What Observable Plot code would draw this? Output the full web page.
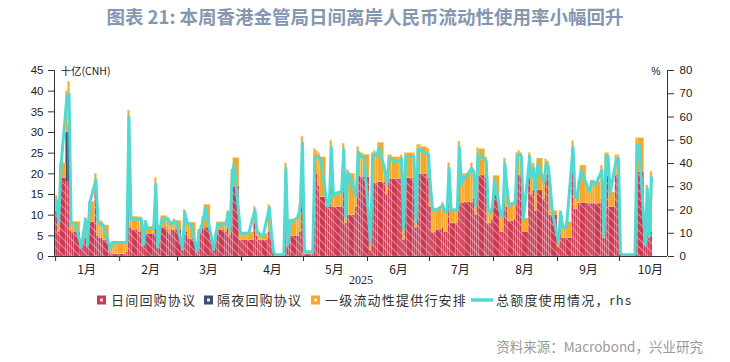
<!DOCTYPE html>
<html><head><meta charset="utf-8">
<script src="https://cdn.jsdelivr.net/npm/d3@7"></script>
<script src="https://cdn.jsdelivr.net/npm/@observablehq/plot@0.6"></script>
<style>
html,body{margin:0;padding:0;background:#fff;}
#chart{width:730px;height:362px;position:relative;}
</style></head><body><div id="chart"></div>
<script>
// ---- text ----
const title = "图表 21: 本周香港金管局日间离岸人民币流动性使用率小幅回升";
const leftUnit = "十亿(CNH)";
const rightUnit = "%";
const yearLabel = "2025";
const source = "资料来源：Macrobond，兴业研究";
const seriesNames = ["日间回购协议", "隔夜回购协议", "一级流动性提供行安排", "总额度使用情况，rhs"];
const monthLabels = ["1月","2月","3月","4月","5月","6月","7月","8月","9月","10月"];
const leftTicks = [0,5,10,15,20,25,30,35,40,45];
const rightTicks = [0,10,20,30,40,50,60,70,80];
const firstDay = "2025-01-01", lastDay = "2025-10-16"; // business days in between

// ---- data (CNH bn, one value per business day) ----
const intraday = [
 11,6,19,18,18,6.5,6,6,2,3,4.5,2.5,8.3,17,5,4.5,4.5,4,1,0.6,0.6,0.6,0.6,
 0.5,1,31,7,6.5,6,6,2.5,6,5.5,5.5,16,2,5,7,6.5,5.5,6.5,6.5,6.5,
 1.5,7,6,4.3,4.3,1,5,6,8,7,4,1.5,4,6.5,6.5,6,7,5,14,17,4,
 4,4,4,4,8,5,4,3.9,3.9,6,5,1,0.3,0.2,0.3,19.5,2.5,5,5,5,6,22,
 0.5,0.5,0.5,20,20,17,14.4,12,12,24,12,12,12,23,8,10,10,12,19.7,19.5,19.3,19.3,
 1.5,17.7,17.7,17.7,18,18,15,18.8,18.8,18.8,18.8,18.8,4,18.8,19,19,7,20,20,20,19,
 12,5.8,5.8,6.5,7,6,6,19,8,8,24,13,13,13.1,13,14,10,19.6,19.6,19,8,8,9,
 14.8,6,5.9,20.5,12,8.5,9,19.7,19.7,19.7,6,19,15,16,11,16,13.8,19.7,19.7,10,10,
 2.3,8.5,4.5,4.5,4.5,24,11.5,11.5,13,13,13,12.8,12.8,12.8,12.8,14,4.4,19.7,19.7,12,19.7,19.7,
 0.5,0.2,0.2,0.2,0.2,0.3,20.5,20.5,2.5,6,4.5,5.9
];
const overnightDates = ["2025-01-06","2025-01-07","2025-04-30","2025-05-06"];
const overnightValues = [12, 14, 4, 1.5];
const plfa = [
 3.7,2.5,3.6,10,10.3,2,2.4,2.4,0.5,3,4.8,0.5,4.9,3,4,4,4,3.5,1,2.9,2.9,2.9,2.9,
 3,3,4.3,2.8,3.1,3.5,3.5,0.7,2.6,1.7,2,3,0.5,2.5,2.8,3,3,2,2.5,2.1,
 0.3,4.3,3,3.9,3.9,0.2,1.5,1.5,1.6,5.5,1,0.3,1.5,1.8,1.8,2.3,4,1.5,7,6.8,2.3,
 1.8,1.8,1.8,1.8,4,1.5,1.8,1.6,1.6,6.4,1,0.5,0.1,0.1,0.1,3,0.5,4,4,5,7,3,
 0.7,0.7,0.7,4.5,5.5,8,9.6,1,0.8,4,3,3.5,4,4.3,2,11,10,3,6.8,5.5,5.7,5.3,
 1.7,7.3,7.8,7.3,9.5,4,3,5.7,5.7,5.2,5.2,5.7,3,6.2,6,6,2,7,7,6.5,7,
 6,5.8,5.8,5.1,6,5,5,3.6,3.5,3.5,3.8,5,7,6.9,9.6,7,3,6.6,6.4,5,3.5,3,3.5,
 4.7,4.5,4.1,3.2,6,4.5,4.5,5.3,5.8,5.3,3.2,6,4.5,6.5,5,7.7,4.7,3.8,3.3,7.3,1,
 2.7,2.5,3.5,3,3.8,3.9,3.5,3,5.4,9,4.5,3.7,5.6,5.6,5.2,8,1.1,5.3,5.3,3.5,4.8,4.8,
 0.5,0.2,0.2,0.2,0.2,0.2,8.1,8.1,0.5,11.2,1,14.6
];
// usage of total quota, % (right axis)
const usage = [
 24,14,38,69,70,14,14,14,4,10,16,5,23,33,15,14,14,13,3,6,6,6,6,
 6,6,60,16,16,16,16,5,15,12,12,31,4,12,16,16,14,14,15,15,
 3,19,15,14,14,2,11,12,16,21,8,3,9,14,14,14,19,11,36,40,10,
 10,10,10,10,20,11,10,9,9,21,10,2,0.8,0.8,0.8,38,5,15,15,17,22,49,
 2,2,2,43,43,43,41,22,22,47,26,27,28,46,17,36,35,26,45,43,43,42,
 5,43,44,43,47,37,31,42,42,41,41,42,12,43,43,43,15,46,46,45,44,
 30,20,20,20,22,19,19,38,20,20,47,31,34,34,38,36,22,44,44,41,20,19,21,
 33,18,17,40,30,22,23,43,44,43,16,43,34,38,28,40,32,40,39,30,19,
 6,19,13,12,14,47,26,25,32,37,30,28,32,32,31,37,9,43,43,27,42,42,
 1.4,0.8,0.8,0.8,0.8,1,48,48,5,29,9,34
];

// ---- build table ----
const DAY = 864e5;
const days = [];
for (let t = Date.parse(firstDay); t <= Date.parse(lastDay); t += DAY) {
  const wd = new Date(t).getUTCDay();
  if (wd > 0 && wd < 6) days.push(new Date(t));
}
const onMap = new Map(overnightDates.map((d, i) => [d, overnightValues[i]]));
const rows = days.map((d, i) => {
  const r = intraday[i] ?? 0, n = onMap.get(d.toISOString().slice(0, 10)) ?? 0, o = plfa[i] ?? 0;
  return {x1: d, x2: days[i + 1] ?? new Date(+d + DAY), xm: new Date(+d + DAY / 2), r, n, o, u: usage[i] ?? 0};
});
const K = 45 / 80; // right-axis % -> left-axis units
const xDomain = [new Date(Date.UTC(2024, 11, 31, 11)), new Date(Date.UTC(2025, 9, 24, 6))];
const monthStarts = d3.range(0, 10).map(m => new Date(Date.UTC(2025, m, 1)));
const monthMids = d3.range(0, 10).map(m => new Date(Date.UTC(2025, m, 16)));

const RED = "#cb3a53", NAVY = "#3f4c6b", ORANGE = "#f6a82a", CYAN = "#52d9d2", AXIS = "#333";
const cjk = "'Noto Sans CJK SC', 'Noto Sans', sans-serif";

const chart = Plot.plot({
  width: 730, height: 362,
  marginLeft: 54, marginRight: 63, marginTop: 70, marginBottom: 106,
  style: {fontFamily: "'Liberation Sans', Arial, sans-serif", fontSize: "11.5px", color: "#222", background: "#fff"},
  x: {type: "utc", domain: xDomain},
  y: {domain: [0, 45]},
  marks: [
    Plot.rect(rows, {x1: "x1", x2: "x2", y1: 0, y2: "r", fill: "url(#redHatch)", stroke: "#f1b5c0", strokeWidth: 0.4, strokeOpacity: 0.7}),
    Plot.rect(rows.filter(d => d.n > 0), {x1: "x1", x2: "x2", y1: d => d.r, y2: d => d.r + d.n, fill: NAVY}),
    Plot.rect(rows, {x1: "x1", x2: "x2", y1: d => d.r + d.n, y2: d => d.r + d.n + d.o, fill: ORANGE, stroke: "#fbd48a", strokeWidth: 0.4}),
    Plot.line(rows, {x: "xm", y: d => d.u * K, stroke: CYAN, strokeWidth: 3, strokeLinejoin: "round"}),
    Plot.ruleY([0], {stroke: AXIS}),
    Plot.ruleX(xDomain, {stroke: AXIS}),
    Plot.axisY(leftTicks, {anchor: "left", tickSize: 6, tickPadding: 5, label: null, stroke: AXIS}),
    Plot.axisY(rightTicks.map(p => p * K), {anchor: "right", tickSize: 6, tickPadding: 6, label: null, stroke: AXIS,
      tickFormat: v => String(Math.round(v / K))}),
    Plot.axisX(monthStarts, {anchor: "bottom", tickSize: 5, tickFormat: () => "", label: null, stroke: AXIS}),
    Plot.axisX(monthMids, {anchor: "bottom", tickSize: 0, tickPadding: 9, label: null, fontFamily: cjk, fontSize: 12,
      tickFormat: d => monthLabels[d.getUTCMonth()]}),
    Plot.text([yearLabel], {frameAnchor: "bottom", dy: 27, fontSize: 12, fontFamily: "'Liberation Serif', serif"}),
    Plot.text([leftUnit], {frameAnchor: "top-left", dx: 6, dy: 1, textAnchor: "start", lineAnchor: "middle", fontFamily: cjk, fontSize: 10.5}),
    Plot.text([rightUnit], {frameAnchor: "top-right", dx: -7, dy: 1, textAnchor: "end", lineAnchor: "middle", fontSize: 10.5})
  ]
});

const svg = d3.select(chart);
svg.insert("defs", ":first-child").html(`
  <pattern id="redHatch" patternUnits="userSpaceOnUse" width="8" height="8">
    <rect width="8" height="8" fill="${RED}"/>
    <path d="M-2,-2L10,10M-2,6L2,10M6,-2L10,2" stroke="#e98a9b" stroke-width="1.1"/>
  </pattern>`);

// title
svg.append("text").attr("x", 365).attr("y", 24).attr("text-anchor", "middle")
  .attr("font-family", cjk).attr("font-weight", "bold").attr("font-size", 18.5).attr("fill", "#8597b0").text(title);

// legend
const ly = 300;
const legend = svg.append("g").attr("font-family", cjk).attr("font-size", 13).attr("fill", "#333")
  .attr("text-anchor", "start").style("letter-spacing", "1.2px");
const marker = (x, outer, inner) => {
  legend.append("rect").attr("x", x).attr("y", ly - 4.5).attr("width", 9).attr("height", 9).attr("fill", outer);
  legend.append("rect").attr("x", x + 3).attr("y", ly - 1.5).attr("width", 3).attr("height", 3).attr("fill", inner);
};
marker(97, RED, "#f7d3da");
legend.append("text").attr("x", 111).attr("y", ly).attr("dy", "0.36em").text(seriesNames[0]);
marker(204, NAVY, "#e6e9ef");
legend.append("text").attr("x", 217).attr("y", ly).attr("dy", "0.36em").text(seriesNames[1]);
marker(311, ORANGE, "#fde2b0");
legend.append("text").attr("x", 325).attr("y", ly).attr("dy", "0.36em").text(seriesNames[2]);
legend.append("line").attr("x1", 471).attr("x2", 493).attr("y1", ly).attr("y2", ly).attr("stroke", CYAN).attr("stroke-width", 3.5);
legend.append("text").attr("x", 496).attr("y", ly).attr("dy", "0.36em").text(seriesNames[3]);

// source
svg.append("text").attr("x", 703).attr("y", 347).attr("dy", "0.36em").attr("text-anchor", "end")
  .attr("font-family", cjk).attr("font-size", 13.5).attr("fill", "#9a9a9a").text(source);

document.getElementById("chart").appendChild(chart);
</script>
</body></html>
